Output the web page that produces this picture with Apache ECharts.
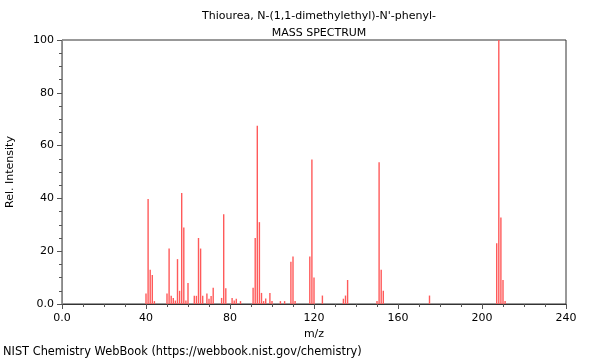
<!DOCTYPE html>
<html><head><meta charset="utf-8">
<script src="https://cdn.jsdelivr.net/npm/echarts@6/dist/echarts.min.js"></script>
<style>html,body{margin:0;padding:0;background:#fff}#c{width:600px;height:360px}</style>
</head><body><div id="c"></div>
<script>
var mz =        [40, 41, 42, 43, 44, 50, 51, 52, 53, 54, 55, 56, 57, 58, 59, 60, 63, 64, 65, 66, 67, 69, 70, 71, 72, 76, 77, 78, 81, 82, 83, 85,
                 91, 92, 93, 94, 95, 96, 97, 99, 100, 104, 106, 109, 110, 111, 118, 119, 120, 124, 134, 135, 136,
                 150, 151, 152, 153, 175, 207, 208, 209, 210, 211];
var intensity = [4, 39.8, 13, 11, 1.1, 4, 21, 3.1, 2.3, 1.3, 17, 5, 42, 29, 1.3, 8, 3.1, 3.1, 25, 21, 3.1, 4, 2, 3, 6.2, 2.3, 34, 6, 2.3, 1.3, 2, 1.1,
                 6.2, 25, 67.5, 31, 4.2, 1.1, 2.1, 4.2, 1.1, 1.1, 1.1, 16, 18, 1.1, 18, 54.7, 10, 3.2, 2, 3.2, 9.1,
                 1.1, 53.7, 13, 5, 3.2, 23, 100, 32.8, 9.1, 1.1];
var xTicks = [0, 40, 80, 120, 160, 200, 240];
var yTicks = [0, 20, 40, 60, 80, 100];
var titleText = "Thiourea, N-(1,1-dimethylethyl)-N'-phenyl-";
var subText = "MASS SPECTRUM";
var footer = "NIST Chemistry WebBook (https://webbook.nist.gov/chemistry)";

var data = mz.map(function (m, i) { return [m, intensity[i]]; });
var font = 'DejaVu Sans';
var chart = echarts.init(document.getElementById('c'));
chart.setOption({
  animation: false,
  backgroundColor: '#fff',
  title: [
    {text: titleText, left: 314, top: 6, textAlign: 'center', textStyle: {fontFamily: font, fontSize: 11, fontWeight: 'normal', color: '#000'}},
    {text: subText, left: 314, top: 23, textAlign: 'center', textStyle: {fontFamily: font, fontSize: 11, fontWeight: 'normal', color: '#000'}},
    {text: footer, left: 3, top: 347, padding: 0, textStyle: {fontFamily: font, fontSize: 11.4, fontWeight: 'normal', color: '#000'}}
  ],
  grid: {left: 62, right: 34, top: 40, bottom: 56, outerBoundsMode: 'none', containLabel: false,
         show: true, borderColor: '#333', borderWidth: 1, backgroundColor: 'transparent'},
  xAxis: {
    type: 'value', min: xTicks[0], max: xTicks[xTicks.length - 1], interval: 40,
    name: 'm/z', nameLocation: 'middle', nameGap: 24,
    nameTextStyle: {fontFamily: font, fontSize: 11, color: '#000'},
    axisLine: {show: true, lineStyle: {color: '#333'}},
    axisTick: {show: true, length: 5, lineStyle: {color: '#555'}},
    minorTick: {show: true, splitNumber: 4, length: 3, lineStyle: {color: '#555'}},
    splitLine: {show: false},
    axisLabel: {fontFamily: font, fontSize: 11, color: '#000', margin: 9,
      formatter: function (v) { return v === 0 ? '0.0' : String(v); }}
  },
  yAxis: {
    type: 'value', min: yTicks[0], max: yTicks[yTicks.length - 1], interval: 20,
    name: 'Rel. Intensity', nameLocation: 'middle', nameGap: 46, nameRotate: 90,
    nameTextStyle: {fontFamily: font, fontSize: 11, color: '#000'},
    axisLine: {show: true, lineStyle: {color: '#888'}},
    axisTick: {show: true, length: 5, lineStyle: {color: '#555'}},
    minorTick: {show: true, splitNumber: 4, length: 3, lineStyle: {color: '#555'}},
    splitLine: {show: false},
    axisLabel: {fontFamily: font, fontSize: 11, color: '#000', margin: 8,
      formatter: function (v) { return v === 0 ? '0.0' : String(v); }}
  },
  series: [{
    type: 'bar', data: data, barWidth: 1.4,
    itemStyle: {color: '#ff5a5a'}, silent: true
  }]
});
</script></body></html>
